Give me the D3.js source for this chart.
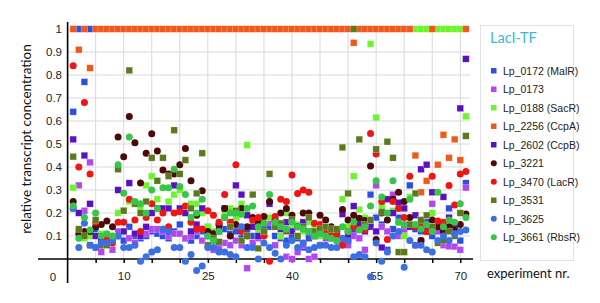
<!DOCTYPE html>
<html>
<head>
<meta charset="utf-8">
<script src="https://cdn.jsdelivr.net/npm/d3@7"></script>
<style>
    body { margin: 0; background: #fff; }
    .narrow { font-family: "Liberation Sans Narrow", "Arial Narrow", sans-serif; }
    .grid line { stroke: #d9d9d9; stroke-width: 1; }
</style>
</head>
<body>
<svg id="chart" width="600" height="303"></svg>
<script>
    // experiment numbers 1..71
    let experiments = d3.range(1, 72)

    let seriesNames = ["Lp_0172 (MalR)", "Lp_0173", "Lp_0188 (SacR)", "Lp_2256 (CcpA)", "Lp_2602 (CcpB)",
        "Lp_3221", "Lp_3470 (LacR)", "Lp_3531", "Lp_3625", "Lp_3661 (RbsR)"]
    let seriesColors = ["#2b4fe0", "#b347ee", "#6cf52a", "#f2581c", "#5812c4",
        "#4d0a0a", "#f01414", "#5c7a1c", "#3c6fe4", "#38c64a"]
    let seriesShapes = ["square", "square", "square", "square", "square",
        "circle", "circle", "square", "circle", "circle"]

    let yTicks = [0.1, 0.2, 0.3, 0.4, 0.5, 0.6, 0.7, 0.8, 0.9, 1]
    let xTicks = d3.range(5, 75, 5)
    let xTickLabels = [10, 25, 40, 55, 70]

    let malR = [0.64, 1, 0.77, 1, 0.13, 0.09, 0.07, 0.08, 0.10, 0.08,
        0.14, 0.10, 0.09, 0.10, 0.12, 0.11, 0.10, 0.09, 0.12, 0.15,
        0.09, 0.08, 0.10, 0.12, 0.14, 0.10, 0.12, 0.13, 0.11, 0.12,
        0.09, 0.12, 0.10, 0.11, 0.13, 0.14, 0.10, 0.09, 0.08, 0.10,
        0.09, 0.05, 0.09, 0.10, 0.12, 0.10, 0.09, 0.11, 0.08, 0.08,
        0.12, 0.13, 0.14, 0.28, 0.18, 0.15, 0.04, 0.13, 0.18, 0.14,
        0.32, 0.13, 0.12, 0.16, 0.10, 0.12, 0.14, 0.22, 0.13, 0.08, 0.33]
    let lp0173 = [0.22, 0.32, 0.21, 0.42, 0.05, 0.03, 0.07, 0.04, 0.12, 0.12,
        0.09, 0.07, 0.10, 0.11, 0.13, 0.13, 0.12, 0.10, 0.11, 0.11,
        0.09, 0.10, 0.12, 0.08, 0.06, 0.04, 0.05, 0.07, 0.06, 0.08,
        0.06, -0.04, 0.07, 0.09, 0.11, 0.16, 0.06, 0.14, 0.01, 0.00,
        0.03, 0.06, 0.00, 0.01, 0.06, 0.09, 0.10, 0.08, 0.07, 0.06,
        0.10, 0.09, 0.04, 0.16, 0.32, 0.14, 0.12, 0.28, 0.10, 0.12,
        0.15, 0.06, 0.08, 0.14, 0.24, 0.12, 0.06, 0.055, 0.054, 0.04, 0.31]
    let sacR = [0.31, 0.12, 0.09, 0.10, 0.15, 0.11, 0.08, 0.10, 0.20, 0.21,
        0.25, 0.24, 0.22, 0.32, 0.36, 0.26, 0.22, 0.25, 0.28, 0.30,
        0.20, 0.24, 0.24, 0.20, 0.14, 0.12, 0.16, 0.20, 0.22, 0.18,
        0.24, 0.495, 0.15, 0.12, 0.17, 0.18, 0.14, 0.10, 0.20, 0.13,
        0.15, 0.12, 0.16, 0.14, 0.10, 0.12, 0.11, 0.09, 0.26, 0.14,
        0.36, 0.215, 0.18, 0.935, 0.615, 0.23, 0.20, 0.21, 0.16, 0.10,
        0.27, 1, 1, 1, 0.20, 1, 1, 1, 1, 1, 0.62]
    let ccpA = [1, 0.91, 1, 0.83, 1, 1, 1, 1, 1, 1,
        1, 1, 1, 1, 1, 1, 1, 1, 1, 1,
        1, 1, 1, 1, 1, 1, 1, 1, 1, 1,
        1, 1, 1, 1, 1, 1, 1, 1, 1, 1,
        1, 1, 1, 1, 1, 1, 1, 1, 1, 1,
        0.94, 1, 1, 1, 1, 1, 1, 1, 1, 1,
        1, 0.45, 0.29, 0.34, 1, 0.41, 0.54, 0.44, 0.52, 0.43, 1]
    let ccpB = [0.52, 0.20, 0.45, 0.24, 0.10, 0.08, 0.08, 0.09, 0.30, 0.12,
        0.33, 0.11, 0.10, 0.14, 0.20, 0.22, 0.22, 0.22, 0.32, 0.22,
        0.20, 0.12, 0.15, 0.22, 0.10, 0.08, 0.14, 0.22, 0.16, 0.32,
        0.28, 0.19, 0.14, 0.10, 0.11, 0.24, 0.15, 0.13, 0.16, 0.12,
        0.14, 0.16, 0.12, 0.10, 0.13, 0.12, 0.11, 0.10, 0.195, 0.10,
        0.23, 0.15, 0.12, 0.14, 0.12, 0.05, 0.26, 0.20, 0.245, 0.22,
        0.14, 0.19, 0.39, 0.41, 0.29, 0.16, 0.27, 0.18, 0.15, 0.655, 0.87]
    let lp3221 = [0.25, 0.11, 0.12, 0.12, 0.14, 0.15, 0.165, 0.14, 0.53, 0.445,
        0.62, 0.505, 0.33, 0.46, 0.545, 0.47, 0.387, 0.37, 0.37, 0.41,
        0.48, 0.34, 0.19, 0.297, 0.12, 0.11, 0.15, 0.22, 0.10, 0.15,
        0.22, 0.14, 0.18, 0.16, 0.185, 0.25, 0.17, 0.20, 0.22, 0.19,
        0.14, 0.20, 0.20, 0.11, 0.19, 0.17, 0.14, 0.12, 0.215, 0.17,
        0.19, 0.177, 0.167, 0.404, 0.085, 0.20, 0.17, 0.26, 0.29, 0.25,
        0.18, 0.14, 0.08, 0.12, 0.17, 0.14, 0.12, 0.14, 0.126, 0.15, 0.196]
    let lacR = [0.84, 0.40, 0.68, 0.37, 0.16, 0.06, 0.09, 0.07, 0.16, 0.16,
        0.26, 0.17, 0.12, 0.18, 0.24, 0.17, 0.20, 0.14, 0.20, 0.205,
        0.23, 0.16, 0.13, 0.13, 0.21, 0.19, 0.16, 0.28, 0.16, 0.41,
        0.12, 0.10, 0.17, 0.18, 0.10, -0.01, 0.185, 0.26, 0.25, 0.365,
        0.285, 0.30, 0.29, 0.155, 0.15, 0.12, 0.11, 0.10, 0.06, 0.12,
        0.14, 0.13, 0.126, 0.546, 0.457, 0.25, 0.085, 0.25, 0.22, 0.18,
        0.36, 0.14, 0.15, 0.12, 0.36, 0.165, 0.16, 0.32, 0.235, 0.37, 0.38]
    let lp3531 = [0.445, 0.13, 0.10, 0.06, 0.17, 0.06, 0.06, 0.09, 0.39, 0.21,
        0.82, 0.24, 0.20, 0.25, 0.44, 0.34, 0.44, 0.36, 0.56, 0.37,
        0.43, 0.22, 0.285, 0.46, 0.06, 0.09, 0.075, 0.18, 0.14, 0.21,
        0.08, 0.10, 0.28, 0.046, 0.12, 0.37, 0.14, 0.155, 0.12, 0.17,
        0.10, 0.14, 0.18, 0.12, 0.13, 0.14, 0.13, 0.13, 0.485, 0.285,
        1, 0.52, 0.15, 0.17, 0.477, 0.205, 0.51, 0.44, 0.03, 0.03,
        0.15, 0.285, 0.17, 0.19, 0.14, 0.07, 0.08, 0.12, 0.10, 0.20, 0.535]
    let lp3625 = [0.22, 0.05, 0.155, 0.06, 0.05, 0.07, 0.07, 0.08, 0.10, 0.05,
        0.05, 0.06, -0.01, 0.01, 0.03, 0.04, 0.13, 0.12, 0.05, 0.05,
        -0.01, 0.02, -0.05, -0.03, 0.05, 0.05, 0.03, 0.03, 0.02, 0.01,
        0.14, 0.05, 0.05, 0.00, 0.07, 0.05, 0.025, 0.00, 0.06, 0.08,
        0.05, 0.07, 0.04, 0.05, 0.06, 0.06, 0.05, 0.05, 0.09, 0.08,
        0.01, 0.02, 0.01, -0.077, 0.07, -0.01, 0.03, 0.10, 0.12, -0.036,
        0.08, 0.06, 0.06, 0.04, 0.03, 0.08, 0.10, 0.08, 0.11, 0.12, 0.126]
    let rbsR = [0.23, 0.09, 0.18, 0.126, 0.20, 0.10, 0.11, 0.10, 0.41, 0.286,
        0.53, 0.25, 0.24, 0.20, 0.30, 0.22, 0.31, 0.31, 0.39, 0.315,
        0.28, 0.18, 0.20, 0.26, 0.10, 0.08, 0.12, 0.18, 0.20, 0.20,
        0.195, 0.22, 0.23, 0.14, 0.155, 0.28, 0.16, 0.14, 0.13, 0.16,
        0.14, 0.13, 0.12, 0.10, 0.11, 0.10, 0.09, 0.08, 0.14, 0.12,
        0.16, 0.126, 0.14, 0.23, 0.34, 0.27, 0.20, 0.34, 0.16, 0.15,
        0.26, 0.15, 0.13, 0.15, 0.12, 0.29, 0.14, 0.17, 0.16, 0.24, 0.18]

    let seriesValues = [malR, lp0173, sacR, ccpA, ccpB, lp3221, lacR, lp3531, lp3625, rbsR]

    function drawChart() {
        let svg = d3.select("#chart")

        let xScale = d3.scaleLinear()
            .domain([0, 72])
            .range([67.6, 471.5])
        let yScale = d3.scaleLinear()
            .domain([0, 1])
            .range([259, 29])

        // grid
        let grid = svg.append("g").attr("class", "grid")
        grid.selectAll(".hgrid")
            .data(yTicks)
            .enter()
            .append("line")
            .attr("x1", xScale(0))
            .attr("x2", 470)
            .attr("y1", d => yScale(d))
            .attr("y2", d => yScale(d))
        grid.selectAll(".vgrid")
            .data(xTicks)
            .enter()
            .append("line")
            .attr("x1", d => xScale(d))
            .attr("x2", d => xScale(d))
            .attr("y1", yScale(1))
            .attr("y2", yScale(0))

        // y axis labels
        svg.append("g")
            .selectAll("text")
            .data(yTicks)
            .enter()
            .append("text")
            .attr("class", "narrow")
            .attr("x", 62)
            .attr("y", d => yScale(d) + 4)
            .attr("text-anchor", "end")
            .attr("font-size", 11.5)
            .attr("fill", "#222")
            .text(d => d === 1 ? "1" : d3.format(".1f")(d))

        // x axis
        let xAxis = d3.axisBottom(xScale)
            .tickValues(xTicks)
            .tickSize(4)
            .tickFormat(d => xTickLabels.includes(d) ? d : "")
        let gx = svg.append("g")
            .attr("transform", "translate(0," + yScale(0) + ")")
            .call(xAxis)
        gx.select(".domain").remove()
        gx.selectAll(".tick line").attr("stroke", "#000").attr("stroke-width", 1.5)
        gx.selectAll(".tick text")
            .attr("class", "narrow")
            .attr("font-size", 11.5)
            .attr("fill", "#222")
            .attr("y", 13)

        svg.append("text")
            .attr("class", "narrow")
            .attr("x", 53)
            .attr("y", 281)
            .attr("text-anchor", "middle")
            .attr("font-size", 11.5)
            .attr("fill", "#222")
            .text("0")

        svg.append("line")
            .attr("x1", 38).attr("x2", 473)
            .attr("y1", yScale(0)).attr("y2", yScale(0))
            .attr("stroke", "#000").attr("stroke-width", 1.6)
        svg.append("line")
            .attr("x1", xScale(0)).attr("x2", xScale(0))
            .attr("y1", 22).attr("y2", 283)
            .attr("stroke", "#000").attr("stroke-width", 1.6)

        // points
        let s = 6.6
        seriesValues.forEach((values, i) => {
            let pts = values.map((v, j) => ({ exp: experiments[j], value: v }))
            let g = svg.append("g")
            if (seriesShapes[i] === "square") {
                g.selectAll("rect")
                    .data(pts)
                    .enter()
                    .append("rect")
                    .attr("x", d => xScale(d.exp) - s / 2)
                    .attr("y", d => yScale(d.value) - s / 2)
                    .attr("width", s)
                    .attr("height", s)
                    .attr("fill", seriesColors[i])
                    .attr("stroke", "#fff")
                    .attr("stroke-opacity", 0.5)
                    .attr("stroke-width", 0.5)
            } else {
                g.selectAll("circle")
                    .data(pts)
                    .enter()
                    .append("circle")
                    .attr("cx", d => xScale(d.exp))
                    .attr("cy", d => yScale(d.value))
                    .attr("r", 3.5)
                    .attr("fill", seriesColors[i])
            }
        })

        // axis titles
        svg.append("text")
            .attr("transform", "translate(31,139) rotate(-90)")
            .attr("text-anchor", "middle")
            .attr("font-family", "Lato, sans-serif")
            .attr("font-size", 13.5)
            .attr("fill", "#111")
            .text("relative transcript concentration")

        svg.append("text")
            .attr("x", 487)
            .attr("y", 278)
            .attr("font-family", "Lato, sans-serif")
            .attr("font-size", 13)
            .attr("fill", "#111")
            .text("experiment nr.")

        drawLegend(svg)
    }

    function drawLegend(svg) {
        let legend = svg.append("g").attr("transform", "translate(480,25)")
        legend.append("rect")
            .attr("x", 0.5).attr("y", 0.5)
            .attr("width", 93).attr("height", 235)
            .attr("fill", "#fff")
            .attr("stroke", "#e2e2e2")
        legend.append("text")
            .attr("x", 10)
            .attr("y", 18)
            .attr("font-family", "Lato, sans-serif")
            .attr("font-size", 14.5)
            .attr("fill", "#3cb6d8")
            .text("LacI-TF")

        let rows = legend.selectAll(".row")
            .data(seriesNames)
            .enter()
            .append("g")
            .attr("transform", (d, i) => "translate(0," + (46 + i * 18.5) + ")")
        rows.each(function(d, i) {
            let row = d3.select(this)
            if (seriesShapes[i] === "square") {
                row.append("rect")
                    .attr("x", 11).attr("y", -3)
                    .attr("width", 5.5).attr("height", 5.5)
                    .attr("fill", seriesColors[i])
            } else {
                row.append("circle")
                    .attr("cx", 13.8).attr("cy", -0.2)
                    .attr("r", 3)
                    .attr("fill", seriesColors[i])
            }
        })
        rows.append("text")
            .attr("class", "narrow")
            .attr("x", 23)
            .attr("y", 3.5)
            .attr("font-size", 10.5)
            .attr("fill", "#222")
            .text(d => d)
    }

    drawChart()
</script>
</body>
</html>
